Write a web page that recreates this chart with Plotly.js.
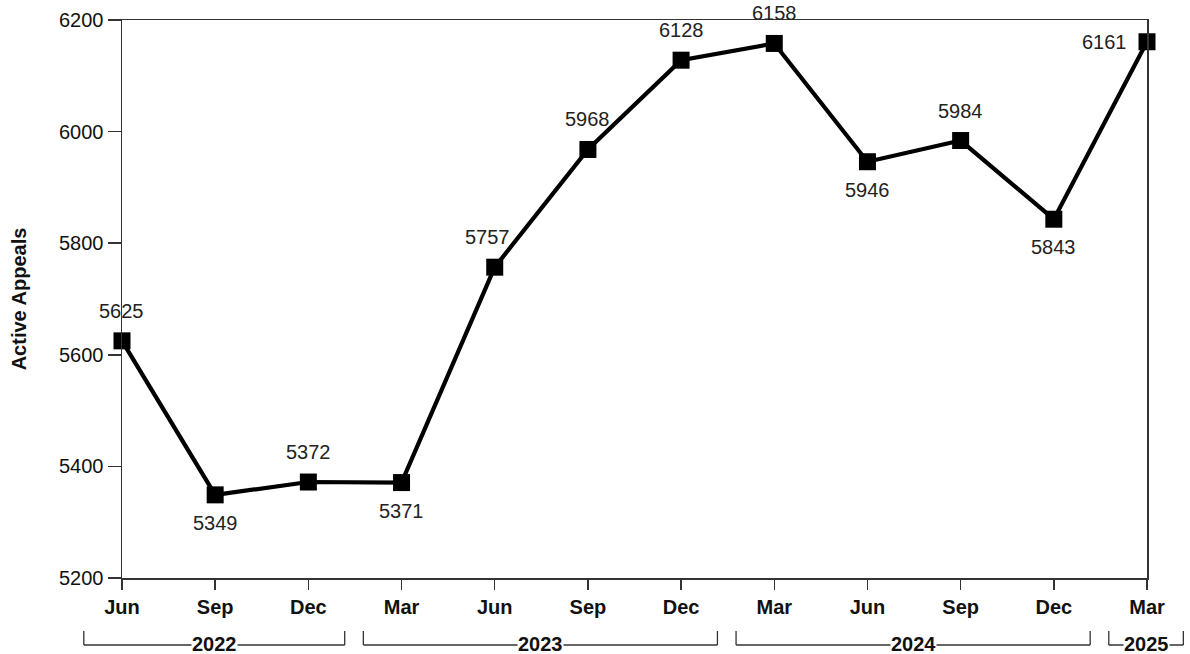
<!DOCTYPE html>
<html>
<head>
<meta charset="utf-8">
<script src="https://cdn.plot.ly/plotly-3.0.1.min.js"></script>
<style>html,body{margin:0;padding:0;background:#fff;}#chart{width:1190px;height:654px;}</style>
</head>
<body>
<div id="chart"></div>
<script>
const months = ["Jun","Sep","Dec","Mar","Jun","Sep","Dec","Mar","Jun","Sep","Dec","Mar"];
const values = [5625,5349,5372,5371,5757,5968,6128,6158,5946,5984,5843,6161];
const labelPos = ["above","below","above","below","above","above","above","above","below","above","below","left"];
const years = ["2022","2023","2024","2025"];
const yearStart = [0,3,7,11];
const yearEnd = [2,6,10,11];

const FONT = "Liberation Sans, Arial, sans-serif";
const idx = months.map((_, i) => i);
const xMax = months.length - 1;
const toPaper = v => v / xMax;

const shapes = [];
const annotations = [];
const yLine = -0.1201, yTop = -0.0950;
years.forEach((yr, k) => {
  const a = toPaper(yearStart[k] - 0.41);
  const b = toPaper(yearEnd[k] + 0.39);
  const lineStyle = {color: "#333", width: 1.3};
  shapes.push({type: "line", xref: "paper", yref: "paper", x0: a, x1: b, y0: yLine, y1: yLine, line: lineStyle});
  shapes.push({type: "line", xref: "paper", yref: "paper", x0: a, x1: a, y0: yLine, y1: yTop, line: lineStyle});
  shapes.push({type: "line", xref: "paper", yref: "paper", x0: b, x1: b, y0: yLine, y1: yTop, line: lineStyle});
  annotations.push({xref: "paper", yref: "paper", x: (a + b) / 2, y: yLine, yshift: 1, text: "<b>" + yr + "</b>",
    showarrow: false, bgcolor: "white", borderpad: 0, xanchor: "center", yanchor: "middle",
    font: {family: FONT, size: 20, color: "#111"}});
});

values.forEach((v, i) => {
  const p = labelPos[i];
  const ann = {x: i, y: v, xref: "x", yref: "y", text: String(v), showarrow: false,
    font: {family: FONT, size: 20, color: "#222"}, xanchor: "center", yanchor: "middle"};
  if (p === "above") ann.yshift = 30;
  else if (p === "below") ann.yshift = -28;
  else if (p === "left") { ann.xanchor = "right"; ann.xshift = -18; ann.yshift = 0; }
  if (i === 4) ann.xshift = -7;
  if (i === 0) ann.xshift = -1;
  annotations.push(ann);
});

const trace = {
  x: idx, y: values, type: "scatter", mode: "lines+markers",
  line: {color: "#000", width: 4.2},
  marker: {symbol: "square", size: 17, color: "#000"},
  cliponaxis: false, hoverinfo: "none"
};

const layout = {
  width: 1190, height: 654,
  margin: {l: 122, r: 43, t: 20, b: 76},
  paper_bgcolor: "#fff", plot_bgcolor: "#fff",
  showlegend: false,
  font: {family: FONT, color: "#111"},
  xaxis: {
    range: [0, xMax], tickmode: "array", tickvals: idx, ticktext: months.map(m => "<b>" + m + "</b>"),
    showgrid: false, zeroline: false, showline: true, linecolor: "#333", linewidth: 1.5, mirror: true,
    ticks: "outside", ticklen: 10, tickcolor: "#333", tickwidth: 1.5,
    tickfont: {size: 20, color: "#111"}
  },
  yaxis: {
    range: [5200, 6200], dtick: 200, tick0: 5200,
    showgrid: false, zeroline: false, showline: true, linecolor: "#333", linewidth: 1.5, mirror: true,
    ticks: "outside", ticklen: 13, tickcolor: "#333", tickwidth: 1.5,
    tickfont: {size: 20, color: "#111"},
    title: {text: "<b>Active Appeals</b>", font: {size: 20, color: "#111"}, standoff: 27}
  },
  shapes: shapes,
  annotations: annotations
};

Plotly.newPlot("chart", [trace], layout, {displayModeBar: false, staticPlot: true});
</script>
</body>
</html>
